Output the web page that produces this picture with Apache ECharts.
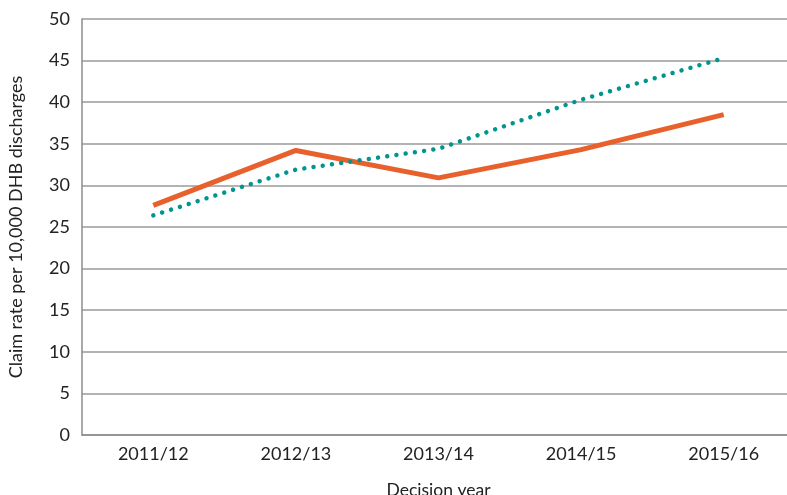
<!DOCTYPE html>
<html>
<head>
<meta charset="utf-8">
<style>
  html, body { margin: 0; padding: 0; background: #fff; }
  #main { width: 787px; height: 495px; }
</style>
<script src="https://cdn.jsdelivr.net/npm/echarts@6/dist/echarts.min.js"></script>
</head>
<body>
<div id="main"></div>
<script>
var years = ["2011/12", "2012/13", "2013/14", "2014/15", "2015/16"];
var solidRate = [27.6, 34.2, 30.9, 34.3, 38.5];
var dottedRate = [26.4, 31.9, 34.4, 40.3, 45.3];
var yTicks = [0, 5, 10, 15, 20, 25, 30, 35, 40, 45, 50];

var font = "Lato, 'Noto Sans', sans-serif";
var chart = echarts.init(document.getElementById("main"));

chart.setOption({
  animation: false,
  grid: { left: 82, right: -8, top: 19, bottom: 60, outerBoundsMode: "none", containLabel: false },
  xAxis: {
    type: "category",
    data: years,
    boundaryGap: true,
    name: "Decision year",
    nameLocation: "middle",
    nameGap: 46,
    nameTextStyle: { fontFamily: font, fontSize: 17.5, color: "#222" },
    axisLine: { lineStyle: { color: "#8c8c8c", width: 1.5 } },
    axisTick: { inside: true, length: 10, lineStyle: { color: "#8c8c8c" } },
    axisLabel: { fontFamily: font, fontSize: 18, color: "#222", margin: 10 }
  },
  yAxis: {
    type: "value",
    min: yTicks[0],
    max: yTicks[yTicks.length - 1],
    interval: 5,
    name: "Claim rate per 10,000 DHB discharges",
    nameLocation: "middle",
    nameGap: 57,
    nameTextStyle: { fontFamily: font, fontSize: 18, color: "#222" },
    axisLine: { show: true, lineStyle: { color: "#8c8c8c", width: 1.5 } },
    axisTick: { show: false },
    axisLabel: { fontFamily: font, fontSize: 18, color: "#222", margin: 12 },
    splitLine: { lineStyle: { color: "#9a9a9a", width: 1.5 } }
  },
  series: [
    {
      type: "line",
      data: solidRate,
      symbol: "none",
      lineStyle: { color: "#e8602c", width: 5 }
    },
    {
      type: "line",
      data: dottedRate,
      symbol: "none",
      lineStyle: { color: "#00958f", width: 4.5, type: [0.01, 9.3], cap: "round" }
    }
  ]
});
</script>
</body>
</html>
